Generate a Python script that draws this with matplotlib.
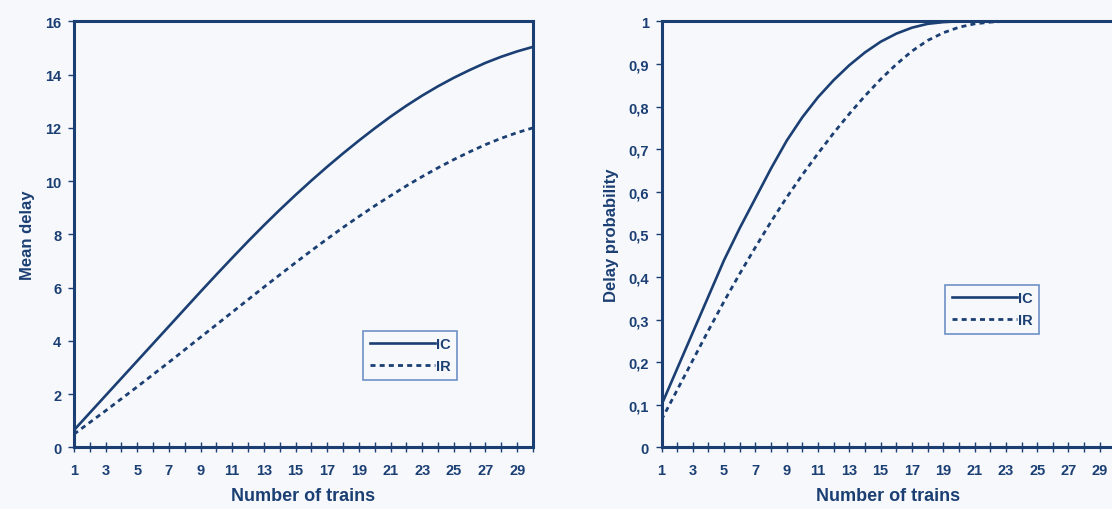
import numpy as np
import matplotlib
matplotlib.use("Agg")
import matplotlib.pyplot as plt

# data
trains = list(range(1, 31))
delay_ic = [0.65, 1.3, 1.95, 2.6, 3.25, 3.9, 4.55, 5.2, 5.85, 6.49,
            7.12, 7.74, 8.34, 8.92, 9.48, 10.02, 10.54, 11.04, 11.52, 11.98,
            12.42, 12.83, 13.21, 13.56, 13.88, 14.17, 14.44, 14.67, 14.87, 15.04]
delay_ir = [0.5, 0.94, 1.38, 1.83, 2.28, 2.74, 3.2, 3.67, 4.14, 4.61,
            5.08, 5.55, 6.02, 6.48, 6.94, 7.39, 7.83, 8.26, 8.67, 9.07,
            9.45, 9.82, 10.17, 10.5, 10.81, 11.1, 11.37, 11.61, 11.82, 12.0]
prob_ic = [0.10, 0.185, 0.27, 0.355, 0.44, 0.515, 0.585, 0.655, 0.72, 0.775,
           0.822, 0.862, 0.897, 0.927, 0.952, 0.971, 0.985, 0.994, 0.998, 1.0,
           1.0, 1.0, 1.0, 1.0, 1.0, 1.0, 1.0, 1.0, 1.0, 1.0]
prob_ir = [0.065, 0.135, 0.205, 0.275, 0.343, 0.408, 0.47, 0.53, 0.587, 0.64,
           0.69, 0.738, 0.783, 0.825, 0.864, 0.899, 0.93, 0.955, 0.973, 0.986,
           0.994, 0.998, 1.0, 1.0, 1.0, 1.0, 1.0, 1.0, 1.0, 1.0]

x_ticks = list(range(1, 31))
x_labels = [str(v) if v % 2 == 1 else "" for v in x_ticks]
delay_ticks = list(range(0, 17, 2))
prob_ticks = [i / 10 for i in range(11)]
prob_labels = ["0", "0,1", "0,2", "0,3", "0,4", "0,5", "0,6", "0,7", "0,8", "0,9", "1"]

navy = "#1b3f73"
bg = "#f6f8fc"

plt.rcParams["font.family"] = ["Liberation Sans", "DejaVu Sans"]
plt.rcParams["font.weight"] = "bold"

fig = plt.figure(figsize=(11.12, 5.1), dpi=100, facecolor=bg)
ax1 = fig.add_axes([0.0665, 0.1206, 0.4128, 0.8357])
ax2 = fig.add_axes([0.5949, 0.1206, 0.4082, 0.8357])


def style(ax, yticks, ylabels, ymax, ylabel, anchor):
    ax.set_facecolor(bg)
    ax.set_xlim(1, 30)
    ax.set_ylim(0, ymax)
    ax.set_xticks(x_ticks)
    ax.set_xticklabels(x_labels)
    ax.set_yticks(yticks)
    ax.set_yticklabels(ylabels)
    for s in ax.spines.values():
        s.set_color(navy)
        s.set_linewidth(2.2)
    ax.tick_params(axis="x", direction="inout", length=7, width=1.0,
                   colors=navy, labelsize=10.5, pad=8)
    ax.tick_params(axis="y", direction="out", length=4, width=1.0,
                   colors=navy, labelsize=10.5, pad=5)
    for t in ax.get_xticklabels() + ax.get_yticklabels():
        t.set_fontweight("bold")
    ax.set_xlabel("Number of trains", fontsize=13, fontweight="bold",
                  color=navy, labelpad=7)
    ax.set_ylabel(ylabel, fontsize=12, fontweight="bold", color=navy,
                  labelpad=7)
    leg = ax.legend(loc="upper left", bbox_to_anchor=anchor, frameon=True,
                    fancybox=False, edgecolor="#6f90c6", facecolor=bg,
                    framealpha=1, fontsize=10.5, handlelength=4.5,
                    handletextpad=0.05, borderpad=0.45, labelspacing=0.55,
                    borderaxespad=0)
    leg.get_frame().set_linewidth(1.2)
    for t in leg.get_texts():
        t.set_color(navy)
        t.set_fontweight("bold")


ax1.plot(trains, delay_ic, color=navy, lw=1.9, label="IC")
ax1.plot(trains, delay_ir, color=navy, lw=2.0, ls=(0, (1.8, 1.5)), label="IR")
style(ax1, delay_ticks, [str(v) for v in delay_ticks], 16, "Mean delay",
      (0.63, 0.274))

ax2.plot(trains, prob_ic, color=navy, lw=1.9, label="IC")
ax2.plot(trains, prob_ir, color=navy, lw=2.0, ls=(0, (1.8, 1.5)), label="IR")
style(ax2, prob_ticks, prob_labels, 1, "Delay probability", (0.6246, 0.382))

fig.savefig("out.png", dpi=100, facecolor=bg)
